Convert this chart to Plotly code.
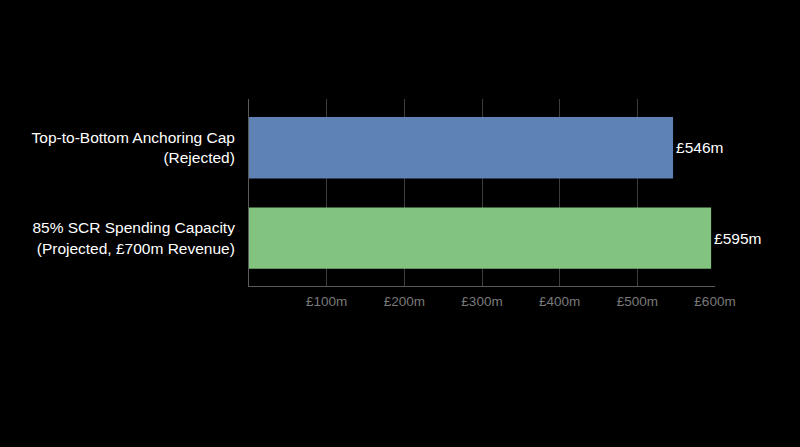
import plotly.graph_objects as go

categories = [
    "Top-to-Bottom Anchoring Cap<br>(Rejected)",
    "85% SCR Spending Capacity<br>(Projected, £700m Revenue)",
]
values = [546, 595]
bar_colors = ["#5f82b4", "#82c47f"]
tick_vals = [100, 200, 300, 400, 500, 600]
tick_text = ["£100m", "£200m", "£300m", "£400m", "£500m", "£600m"]

fig = go.Figure(go.Bar(
    x=values,
    y=categories,
    orientation="h",
    width=0.68,
    marker=dict(color=bar_colors, line=dict(width=0)),
    text=[f"£{v}m" for v in values],
    textposition="outside",
    textfont=dict(color="white", size=15.5),
    cliponaxis=False,
))

fig.update_layout(
    width=800, height=447,
    paper_bgcolor="black", plot_bgcolor="black",
    margin=dict(l=249, r=85, t=99, b=161),
    font=dict(family="Liberation Sans, Arial, sans-serif"),
    showlegend=False,
)
fig.update_xaxes(
    range=[0, 600],
    tickvals=tick_vals, ticktext=tick_text,
    tickfont=dict(color="#7a7a7a", size=13.5),
    showgrid=True, gridcolor="#3c3c3c", gridwidth=1,
    showline=True, linecolor="#5a5a5a", linewidth=1,
    zeroline=False,
    ticklabelstandoff=3,
)
fig.update_yaxes(
    range=[1.53, -0.54],
    tickfont=dict(color="white", size=15.5),
    showline=True, linecolor="#5a5a5a", linewidth=1,
    showgrid=False,
    ticklabelstandoff=10,
)

# drop the page's default body margin so the chart fills the window
fig.write_html(
    "out.html",
    config={"displayModeBar": False},
    post_script="document.body.style.margin='0';document.body.style.background='black';",
)
